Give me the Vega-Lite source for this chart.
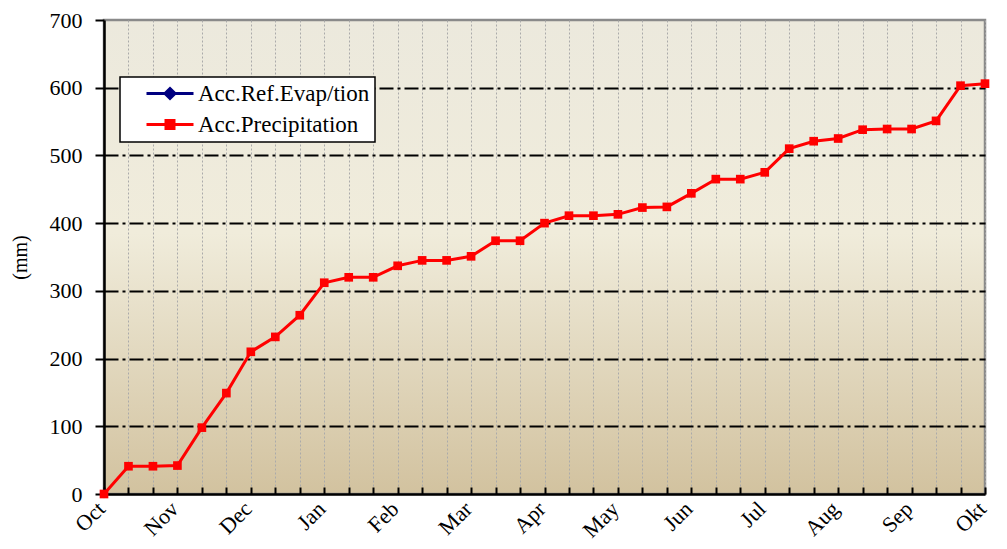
{
  "$schema": "https://vega.github.io/schema/vega-lite/v6.json",
  "width": 881,
  "height": 474,
  "autosize": {"type": "none"},
  "padding": {"left": 104, "top": 20, "right": 22, "bottom": 55},
  "background": "white",
  "config": {
    "font": "'Liberation Serif', 'DejaVu Serif', serif",
    "view": {
      "fill": {"gradient": "linear", "x1": 0, "y1": 0, "x2": 0, "y2": 1,
        "stops": [{"offset": 0, "color": "#ECE9DD"}, {"offset": 0.45, "color": "#F0ECDB"}, {"offset": 1, "color": "#D2C29F"}]},
      "stroke": "#8a8a8a",
      "strokeWidth": 2.5
    }
  },
  "data": {
    "values": [
      {"i": 0, "v": 0, "s": "Acc.Ref.Evap/tion"},
      {"i": 0, "v": 0, "s": "Acc.Precipitation"},
      {"i": 1, "v": 41, "s": "Acc.Precipitation"},
      {"i": 2, "v": 41, "s": "Acc.Precipitation"},
      {"i": 3, "v": 42, "s": "Acc.Precipitation"},
      {"i": 4, "v": 98, "s": "Acc.Precipitation"},
      {"i": 5, "v": 149, "s": "Acc.Precipitation"},
      {"i": 6, "v": 210, "s": "Acc.Precipitation"},
      {"i": 7, "v": 232, "s": "Acc.Precipitation"},
      {"i": 8, "v": 264, "s": "Acc.Precipitation"},
      {"i": 9, "v": 312, "s": "Acc.Precipitation"},
      {"i": 10, "v": 320, "s": "Acc.Precipitation"},
      {"i": 11, "v": 320, "s": "Acc.Precipitation"},
      {"i": 12, "v": 337, "s": "Acc.Precipitation"},
      {"i": 13, "v": 345, "s": "Acc.Precipitation"},
      {"i": 14, "v": 345, "s": "Acc.Precipitation"},
      {"i": 15, "v": 351, "s": "Acc.Precipitation"},
      {"i": 16, "v": 374, "s": "Acc.Precipitation"},
      {"i": 17, "v": 374, "s": "Acc.Precipitation"},
      {"i": 18, "v": 400, "s": "Acc.Precipitation"},
      {"i": 19, "v": 411, "s": "Acc.Precipitation"},
      {"i": 20, "v": 411, "s": "Acc.Precipitation"},
      {"i": 21, "v": 413, "s": "Acc.Precipitation"},
      {"i": 22, "v": 423, "s": "Acc.Precipitation"},
      {"i": 23, "v": 424, "s": "Acc.Precipitation"},
      {"i": 24, "v": 444, "s": "Acc.Precipitation"},
      {"i": 25, "v": 465, "s": "Acc.Precipitation"},
      {"i": 26, "v": 465, "s": "Acc.Precipitation"},
      {"i": 27, "v": 475, "s": "Acc.Precipitation"},
      {"i": 28, "v": 510, "s": "Acc.Precipitation"},
      {"i": 29, "v": 521, "s": "Acc.Precipitation"},
      {"i": 30, "v": 525, "s": "Acc.Precipitation"},
      {"i": 31, "v": 538, "s": "Acc.Precipitation"},
      {"i": 32, "v": 539, "s": "Acc.Precipitation"},
      {"i": 33, "v": 539, "s": "Acc.Precipitation"},
      {"i": 34, "v": 551, "s": "Acc.Precipitation"},
      {"i": 35, "v": 603, "s": "Acc.Precipitation"},
      {"i": 36, "v": 606, "s": "Acc.Precipitation"}
    ]
  },
  "encoding": {
    "x": {
      "field": "i", "type": "quantitative",
      "scale": {"domain": [0, 36], "nice": false, "zero": false},
      "axis": {
        "title": null,
        "values": [0,1,2,3,4,5,6,7,8,9,10,11,12,13,14,15,16,17,18,19,20,21,22,23,24,25,26,27,28,29,30,31,32,33,34,35,36],
        "labelExpr": "datum.value % 3 == 0 ? ['Oct','Nov','Dec','Jan','Feb','Mar','Apr','May','Jun','Jul','Aug','Sep','Okt'][datum.value / 3] : ''",
        "labelAngle": -45,
        "labelAlign": "right",
        "labelBaseline": "middle",
        "labelFontSize": 22,
        "labelColor": "black",
        "labelFlush": false,
        "labelOverlap": false,
        "labelPadding": 18,
        "labelOffset": -3,
        "tickSize": -7,
        "tickWidth": 2,
        "tickColor": "black",
        "domainColor": "black",
        "domainWidth": 2.5,
        "grid": true,
        "gridColor": "#aaaaaa",
        "gridDash": [2, 2],
        "gridWidth": 1
      }
    },
    "y": {
      "field": "v", "type": "quantitative",
      "scale": {"domain": [0, 700], "nice": false},
      "axis": {
        "title": "(mm)",
        "titleFontSize": 20,
        "titleFontWeight": "normal",
        "titleColor": "black",
        "titlePadding": 19,
        "values": [0, 100, 200, 300, 400, 500, 600, 700],
        "labelFontSize": 22,
        "labelColor": "black",
        "labelPadding": 13,
        "tickSize": 9,
        "tickWidth": 2,
        "tickColor": "black",
        "domainColor": "black",
        "domainWidth": 2.5,
        "grid": true,
        "gridColor": "black",
        "gridDash": [14, 4, 3, 4],
        "gridWidth": 2,
        "gridOpacity": {"condition": {"test": "datum.value == 700 || datum.value == 0", "value": 0}, "value": 1}
      }
    }
  },
  "layer": [
    {
      "mark": {"type": "line", "strokeWidth": 3},
      "encoding": {
        "color": {
          "field": "s", "type": "nominal",
          "scale": {"domain": ["Acc.Ref.Evap/tion", "Acc.Precipitation"], "range": ["#000080", "#FF0000"]},
          "legend": {
            "title": null,
            "orient": "none",
            "legendX": 16,
            "legendY": 57,
            "fillColor": "white",
            "strokeColor": "black",
            "padding": 5,
            "rowPadding": 7,
            "labelFontSize": 23,
            "labelColor": "black",
            "labelOffset": 50,
            "labelLimit": 400,
            "symbolSize": 100,
            "symbolOffset": 0,
            "symbolStrokeWidth": 3,
            "symbolType": "M2,0H11.4M5.9,-0.8H7.5V0.8H5.9Z",
            "encode": {
              "legend": {"update": {"strokeWidth": {"value": 1.5}}},
              "symbols": {
                "update": {
                  "shape": {"signal": "datum.value === 'Acc.Precipitation' ? 'M2,0H11.4M5.9,-0.8H7.5V0.8H5.9Z' : 'M2,0H11.4M6.7,-1L7.7,0L6.7,1L5.7,0Z'"},
                  "fill": {"signal": "datum.value === 'Acc.Precipitation' ? '#FF0000' : '#000080'"},
                  "stroke": {"signal": "datum.value === 'Acc.Precipitation' ? '#FF0000' : '#000080'"},
                  "strokeWidth": {"value": 3},
                  "opacity": {"value": 1}
                }
              }
            }
          }
        }
      }
    },
    {
      "transform": [{"filter": "datum.s === 'Acc.Ref.Evap/tion'"}],
      "mark": {"type": "point", "filled": true, "opacity": 1, "size": 75, "shape": "diamond"},
      "encoding": {
        "color": {"field": "s", "type": "nominal", "legend": null}
      }
    },
    {
      "transform": [{"filter": "datum.s === 'Acc.Precipitation'"}],
      "mark": {"type": "point", "filled": true, "opacity": 1, "size": 75, "shape": "square"},
      "encoding": {
        "color": {"field": "s", "type": "nominal", "legend": null}
      }
    }
  ]
}
